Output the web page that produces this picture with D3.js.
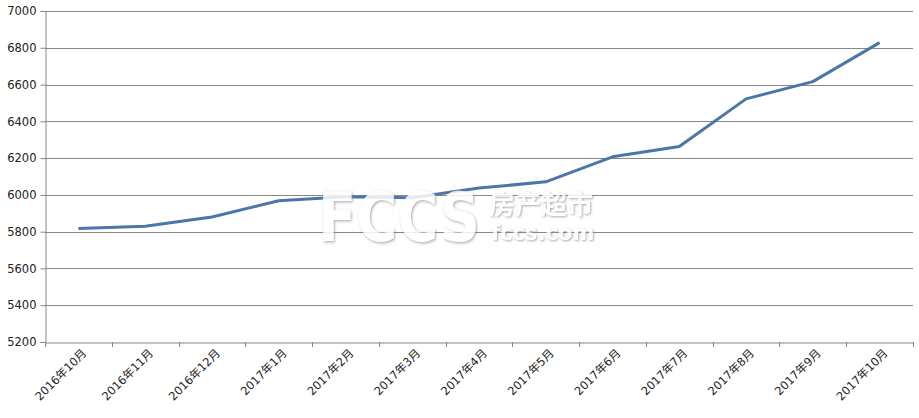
<!DOCTYPE html>
<html><head><meta charset="utf-8">
<script src="https://cdn.jsdelivr.net/npm/d3@7"></script>
<style>body{margin:0;background:#fff;}svg{display:block;}</style>
</head><body>
<svg id="c" width="919" height="418"></svg>
<script>
const categories = ["2016年10月","2016年11月","2016年12月","2017年1月","2017年2月","2017年3月","2017年4月","2017年5月","2017年6月","2017年7月","2017年8月","2017年9月","2017年10月"];
const values = [5817, 5830, 5880, 5968, 5990, 5985, 6037, 6071, 6207, 6263, 6522, 6616, 6828];
const yTicks = [5200,5400,5600,5800,6000,6200,6400,6600,6800,7000];

const svg = d3.select("#c");
const m = {l:45, r:6, t:11, b:76};
const W = 919, H = 418;
const x = d3.scaleBand().domain(categories).range([m.l, W - m.r]);
const y = d3.scaleLinear().domain([5200, 7000]).range([H - m.b, m.t]);
const font = "'DejaVu Sans','Noto Sans CJK SC',sans-serif";

// grid
svg.append("g").selectAll("line").data(yTicks.slice(1)).join("line")
  .attr("x1", m.l).attr("x2", W - m.r)
  .attr("y1", d => Math.round(y(d)) + 0.5).attr("y2", d => Math.round(y(d)) + 0.5)
  .attr("stroke", "#878787").attr("stroke-width", 1);

// y axis
const ya = svg.append("g").attr("transform", `translate(${m.l + 0.5},0)`)
  .call(d3.axisLeft(y).tickValues(yTicks).tickSize(5).tickPadding(4).tickFormat(d3.format("d")));
ya.select(".domain").attr("stroke", "#878787");
ya.selectAll(".tick line").attr("stroke", "#878787");
ya.selectAll(".tick text").attr("font-family", font).attr("font-size", 11.5).attr("fill", "#222");

// x axis
const xa = svg.append("g").attr("transform", `translate(0,${Math.round(y(5200)) + 0.5})`)
  .call(d3.axisBottom(x).tickSize(0).tickFormat(""));
xa.select(".domain").attr("stroke", "#878787");
const bounds = categories.map(c => x(c)).concat([x(categories[categories.length-1]) + x.bandwidth()]);
svg.append("g").selectAll("line").data(bounds).join("line")
  .attr("x1", d => Math.round(d) + 0.5).attr("x2", d => Math.round(d) + 0.5)
  .attr("y1", Math.round(y(5200))).attr("y2", Math.round(y(5200)) + 5)
  .attr("stroke", "#878787");
svg.append("g").selectAll("text").data(categories).join("text")
  .attr("transform", d => `translate(${x(d) + x.bandwidth()/2 + 6},${y(5200) + 9}) rotate(-45)`)
  .attr("text-anchor", "end").attr("dy", "0.35em")
  .attr("font-family", font).attr("font-size", 11.5).attr("fill", "#222")
  .text(d => d);

// line
svg.append("path").datum(values)
  .attr("fill", "none").attr("stroke", "#4a76a8").attr("stroke-width", 3).attr("stroke-linejoin","round")
  .attr("d", d3.line().x((d,i) => x(categories[i]) + x.bandwidth()/2).y(d => y(d)));

// watermark (drawn over the line, semi-transparent)
const defs = svg.append("defs");
const f = defs.append("filter").attr("id","sh").attr("x","-10%").attr("y","-10%").attr("width","120%").attr("height","130%");
f.append("feDropShadow").attr("dx",1).attr("dy",1).attr("stdDeviation",1.2).attr("flood-color","#8a8a8a").attr("flood-opacity",0.85);
const wm = svg.append("g").attr("opacity", 0.85);
wm.append("text").attr("transform", "translate(318,241) scale(1,1.2)").attr("font-family", "'DejaVu Sans',sans-serif")
  .attr("font-weight", "bold").attr("font-size", 56)
  .attr("fill", "#fff").attr("filter","url(#sh)").text("FCCS");
wm.append("text").attr("x", 489).attr("y", 214).attr("font-family", "'Noto Sans CJK SC',sans-serif")
  .attr("font-weight", "bold").attr("font-size", 26)
  .attr("fill", "#fff").attr("filter","url(#sh)").text("房产超市");
wm.append("text").attr("x", 491).attr("y", 240).attr("font-family", "'DejaVu Sans',sans-serif")
  .attr("font-weight", "bold").attr("font-size", 21)
  .attr("fill", "#fff").attr("filter","url(#sh)").text("fccs.com");
</script>
</body></html>
